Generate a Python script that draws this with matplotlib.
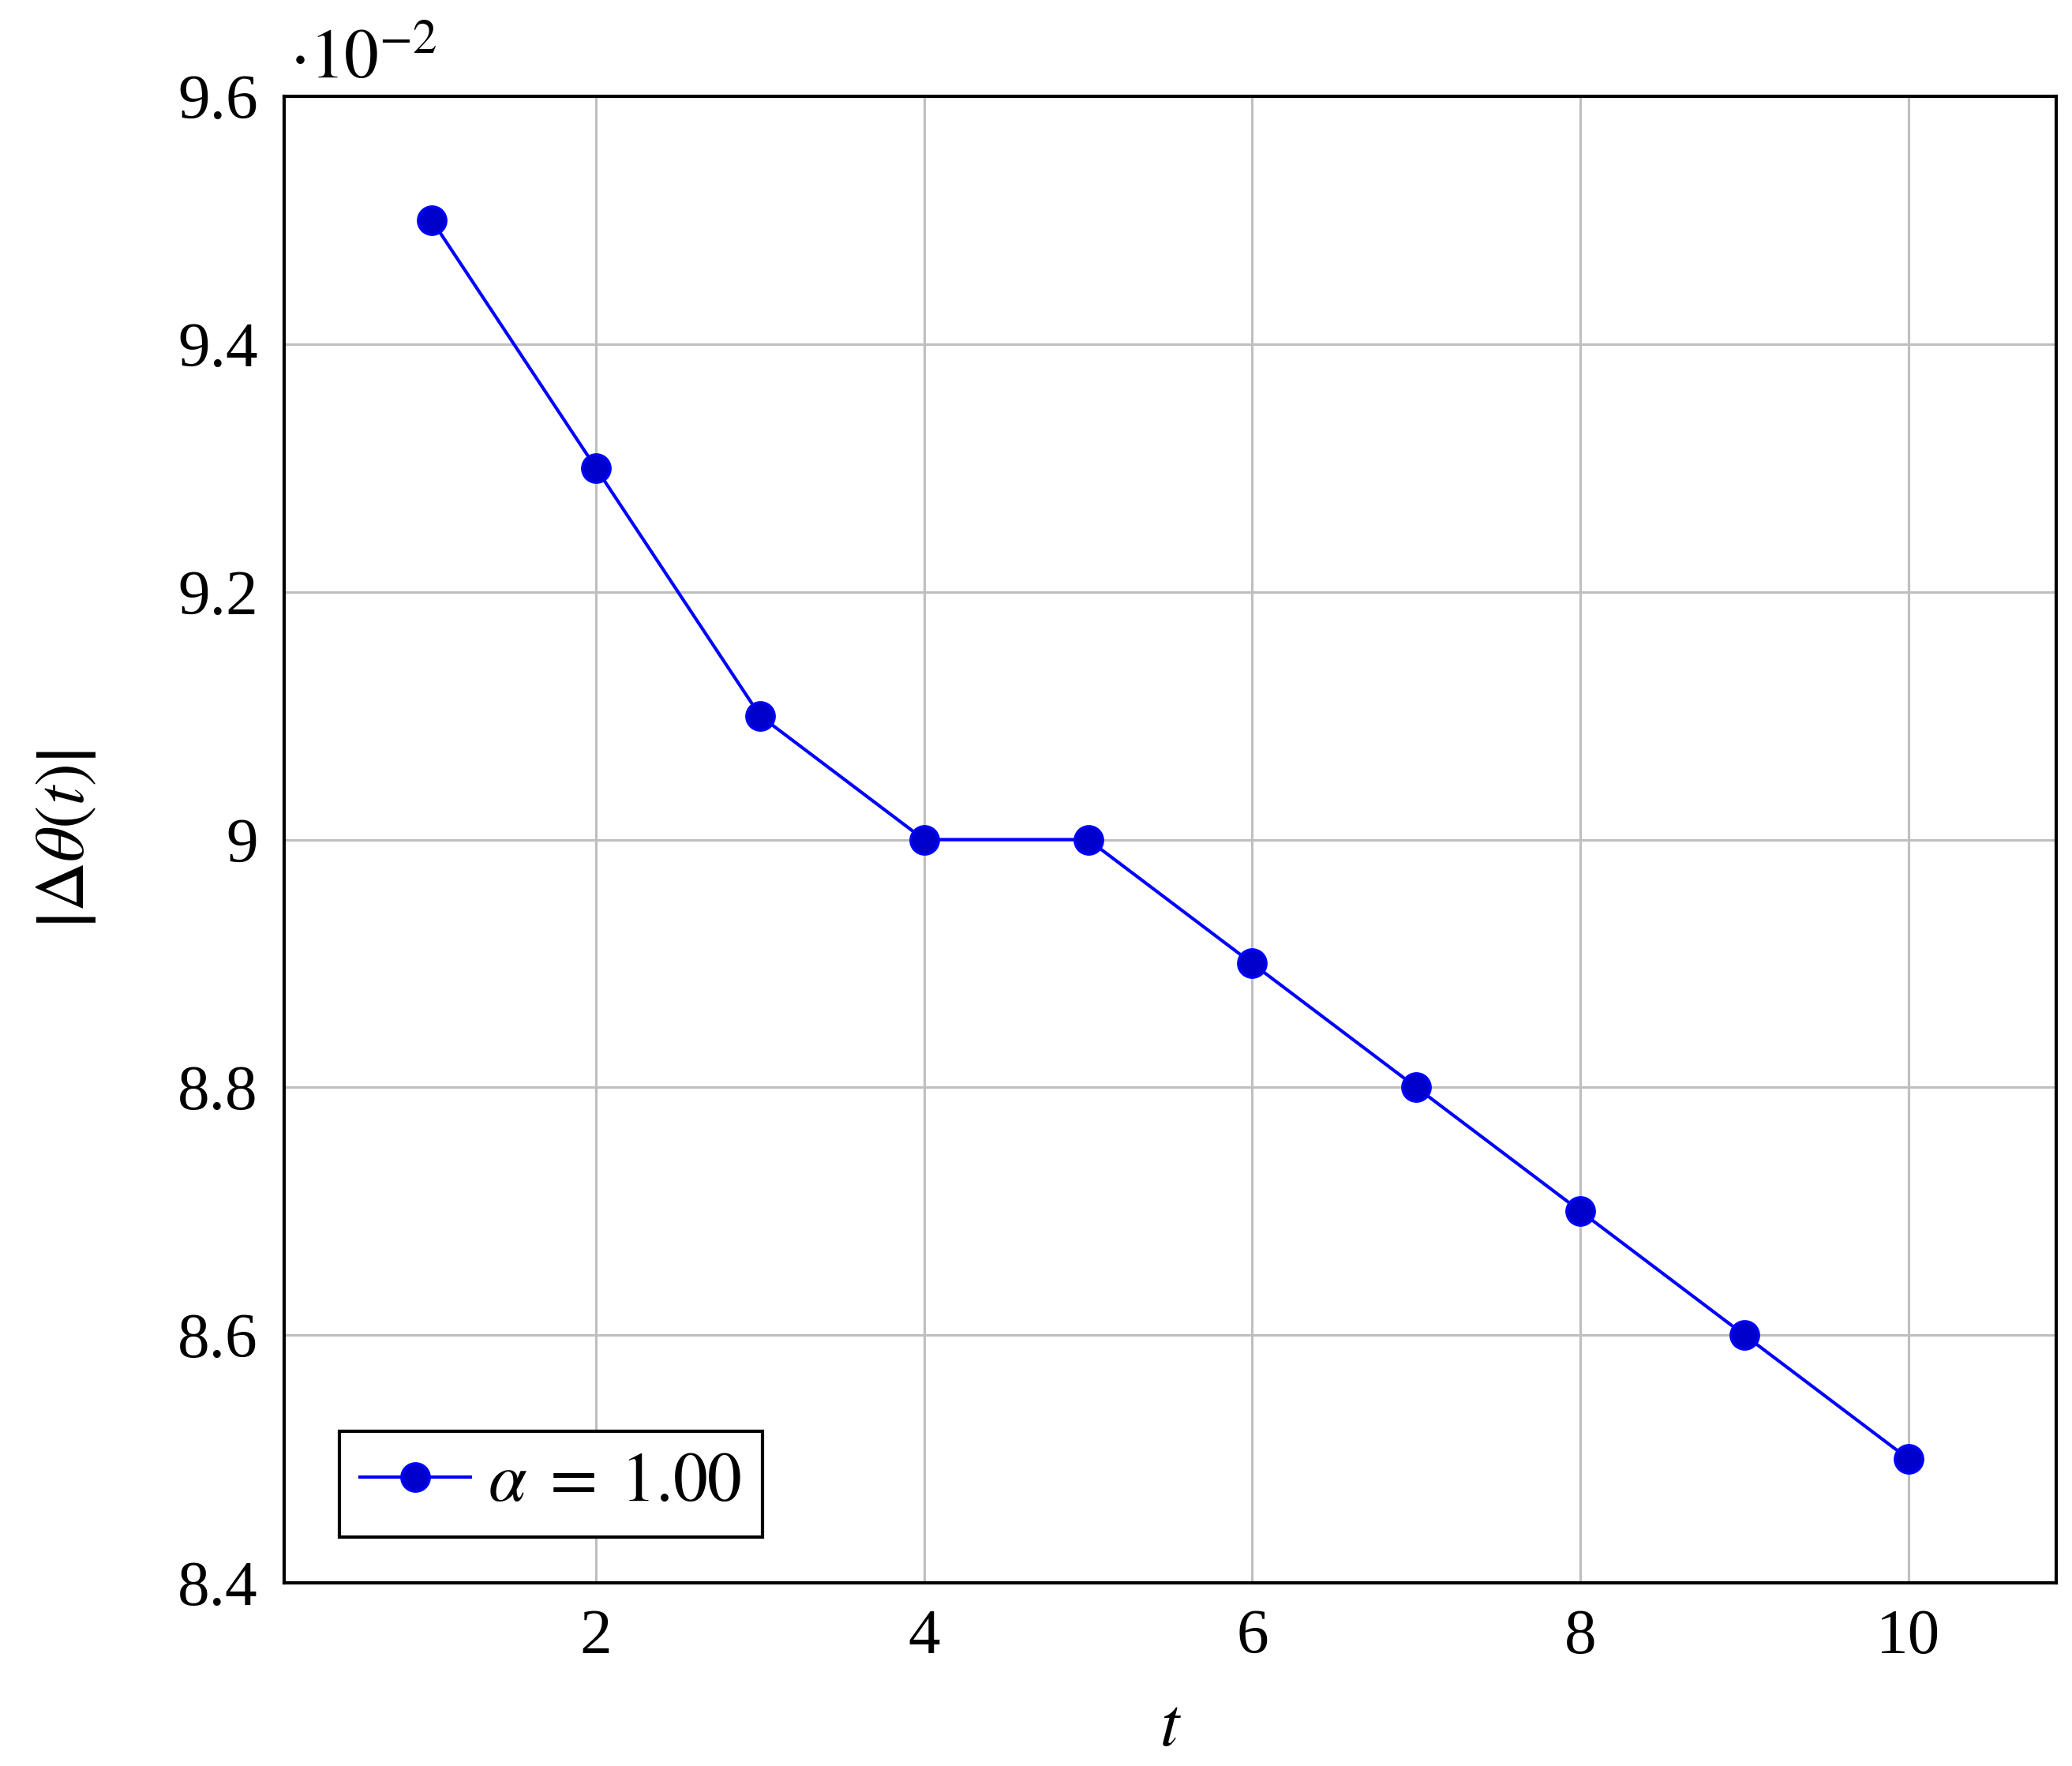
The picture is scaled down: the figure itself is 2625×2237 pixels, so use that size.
import matplotlib
matplotlib.use("Agg")
import matplotlib.pyplot as plt
import numpy as np

# Data
t = [1, 2, 3, 4, 5, 6, 7, 8, 9, 10]
delta_theta = [0.095, 0.093, 0.091, 0.090, 0.090, 0.089, 0.088, 0.087, 0.086, 0.085]
scale_exp = -2
xticks = [2, 4, 6, 8, 10]
yticks = [8.4, 8.6, 8.8, 9.0, 9.2, 9.4, 9.6]
ytick_labels = ["8.4", "8.6", "8.8", "9", "9.2", "9.4", "9.6"]
series_label = r"$\alpha\;=\;\mathrm{1.00}$"

plt.rcParams['font.family'] = ['Liberation Serif', 'DejaVu Serif']
plt.rcParams['mathtext.fontset'] = 'stix'

fig = plt.figure(figsize=(8.75, 2237 / 300), dpi=300)
ax = fig.add_axes([360 / 2625, 1 - 2005 / 2237, 2245 / 2625, 1883 / 2237])

yscaled = np.array(delta_theta) / 10.0 ** scale_exp
ax.plot(t, yscaled, color='#0000ff', lw=1.0, marker='o', markersize=8.5,
        markerfacecolor='#0000cc', markeredgecolor='#0000ff', markeredgewidth=0.8,
        label=series_label, zorder=3)

ax.set_xlim(0.1, 10.9)
ax.set_ylim(8.4, 9.6)
ax.set_xticks(xticks)
ax.set_xticklabels([str(v) for v in xticks])
ax.set_yticks(yticks)
ax.set_yticklabels(ytick_labels)
ax.grid(True, color='#bfbfbf', lw=0.75)
ax.set_axisbelow(True)
ax.tick_params(direction='in', length=3, width=0.6, color='#bfbfbf', labelsize=19.5, pad=8)
for s in ax.spines.values():
    s.set_linewidth(1.0)
    s.set_color('black')

ax.set_xlabel(r"$t$", fontsize=21, labelpad=9)
ax.set_ylabel(r"$\left|\Delta\theta(t)\right|$", fontsize=21, labelpad=24)

ax.text(0.003, 1.012, r"$\cdot10^{-2}$", transform=ax.transAxes, fontsize=21,
        ha='left', va='baseline')

leg = ax.legend(loc='lower left', bbox_to_anchor=(0.031, 0.031), fontsize=21,
                fancybox=False, framealpha=1, edgecolor='black', borderpad=0.3,
                handlelength=1.6, handletextpad=0.25, borderaxespad=0)
leg.get_frame().set_linewidth(1.0)

fig.savefig("out.png", dpi=300)
